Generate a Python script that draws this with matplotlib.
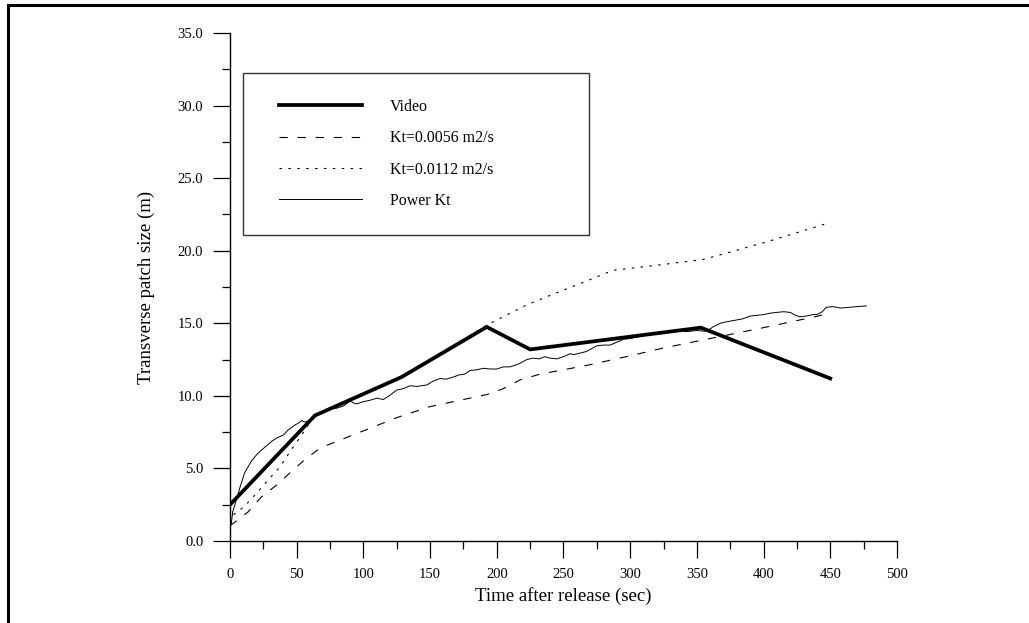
import matplotlib
matplotlib.use("Agg")
import matplotlib.pyplot as plt
from matplotlib.lines import Line2D
from matplotlib.legend_handler import HandlerLine2D
from matplotlib.patches import Rectangle
from matplotlib.ticker import MultipleLocator, FormatStrFormatter

# valeurs
video_t = [0, 63.7, 128.7, 192.5, 225, 353, 450]
video_w = [2.5, 8.65, 11.3, 14.75, 13.2, 14.7, 11.2]

kt1_t = [0, 13.5, 23.7, 35, 45, 56, 67.5, 81, 105, 125, 150, 175, 193, 205, 217.5,
         232.5, 267.5, 300, 325, 355, 400, 441, 447]
kt1_w = [1.05, 2.0, 3.05, 3.86, 4.7, 5.6, 6.4, 6.9, 7.77, 8.5, 9.26, 9.75, 10.1, 10.5, 11.1,
         11.5, 12.1, 12.76, 13.3, 13.86, 14.7, 15.5, 15.65]

kt2_t = [0, 2.5, 11, 20, 28.5, 37.5, 46, 53.7, 60, 63, 75, 100, 125, 150, 175, 193,
         222, 242, 267, 287, 320, 355, 402, 450]
kt2_w = [1.25, 1.8, 2.4, 3.3, 4.2, 5.1, 6.3, 7.3, 8.2, 8.55, 9.2, 10.1, 11.2, 12.5, 13.9, 14.9,
         16.25, 17.0, 17.9, 18.65, 19.0, 19.4, 20.6, 21.95]

power_t = [1, 2, 5, 7.5, 11, 16, 20, 24, 28, 31, 35, 37.5, 40, 43.5, 46, 48.7, 51, 53.7,
           56, 57.5, 60, 62.5, 66, 70, 75, 80, 85, 90, 93, 95, 100, 105, 110, 115, 120,
           125, 130, 135, 140, 147.5, 152, 157.5, 162, 167.5, 172, 176, 180, 185, 190,
           195, 200, 205, 210, 215, 217.5, 222.5, 227, 232, 236, 240, 245, 250, 255, 258,
           262.5, 267, 270, 275, 280, 285, 290, 295, 300, 305, 310, 315, 320, 325, 330,
           335, 342.5, 350, 357.5, 362, 367.5, 372, 378, 384, 390, 395, 400, 405, 410,
           415, 420, 424, 427, 432, 437, 440, 444, 447, 452, 458, 464, 470, 477]
power_w = [1.2, 2.0, 2.9, 3.7, 4.7, 5.5, 5.95, 6.3, 6.6, 6.85, 7.1, 7.2, 7.3, 7.65, 7.8, 8.0,
           8.1, 8.3, 8.2, 8.23, 8.35, 8.57, 8.7, 8.9, 9.1, 9.15, 9.3, 9.65, 9.5, 9.45, 9.6,
           9.7, 9.84, 9.75, 10.05, 10.4, 10.5, 10.7, 10.65, 10.75, 11.0, 11.2, 11.15, 11.3,
           11.45, 11.5, 11.75, 11.8, 11.9, 11.85, 11.85, 12.0, 12.0, 12.15, 12.25, 12.5,
           12.6, 12.55, 12.7, 12.6, 12.55, 12.7, 12.9, 12.85, 12.95, 13.05, 13.2, 13.45,
           13.5, 13.5, 13.7, 13.9, 13.95, 14.05, 14.14, 14.3, 14.3, 14.35, 14.4, 14.5,
           14.43, 14.5, 14.45, 14.75, 15.0, 15.1, 15.2, 15.3, 15.5, 15.55, 15.6, 15.7,
           15.75, 15.8, 15.75, 15.55, 15.45, 15.5, 15.6, 15.6, 15.8, 16.1, 16.15, 16.05,
           16.1, 16.15, 16.2]

labels = ["Video", "Kt=0.0056 m2/s", "Kt=0.0112 m2/s", "Power Kt"]


def main():
    plt.rcParams['font.family'] = ['Liberation Serif', 'DejaVu Serif']
    plt.rcParams['lines.scale_dashes'] = False

    fig = plt.figure(figsize=(10.29, 6.23), dpi=100)
    ax = fig.add_axes([0.2235, 0.1316, 0.6482, 0.8154])

    ax.plot(video_t, video_w, color='black', lw=2.7, solid_joinstyle='miter', label=labels[0])
    ax.plot(kt1_t, kt1_w, color='black', lw=0.8, dashes=(6, 7), label=labels[1])
    ax.plot(kt2_t, kt2_w, color='black', lw=0.8, dashes=(1.8, 4.6), label=labels[2])
    ax.plot(power_t, power_w, color='black', lw=0.7, label=labels[3])

    ax.set_xlim(0, 500)
    ax.set_ylim(0, 35)
    ax.spines['top'].set_visible(False)
    ax.spines['right'].set_visible(False)
    for s in ('left', 'bottom'):
        ax.spines[s].set_linewidth(1.0)

    ax.xaxis.set_major_locator(MultipleLocator(50))
    ax.xaxis.set_minor_locator(MultipleLocator(25))
    ax.yaxis.set_major_locator(MultipleLocator(5))
    ax.yaxis.set_minor_locator(MultipleLocator(2.5))
    ax.yaxis.set_major_formatter(FormatStrFormatter('%.1f'))
    ax.tick_params(which='major', direction='out', length=12.2, width=0.9, labelsize=10.5, pad=7)
    ax.tick_params(which='minor', direction='out', length=6, width=0.9)

    ax.set_xlabel('Time after release (sec)', fontsize=13.5)
    ax.set_ylabel('Transverse patch size (m)', fontsize=13.5)
    ax.xaxis.set_label_coords(0.5, -0.09)
    ax.yaxis.set_label_coords(-0.112, 0.5)

    leg = ax.legend(loc='upper left', bbox_to_anchor=(0.2362, 0.8828, 0.3362, 0),
                    bbox_transform=fig.transFigure, mode='expand', borderaxespad=0,
                    fontsize=11.5, borderpad=1.62, labelspacing=0.96,
                    handlelength=5.82, handletextpad=1.75, fancybox=False,
                    handler_map={Line2D: HandlerLine2D(xpad=0.63)})
    leg.get_frame().set_edgecolor('black')
    leg.get_frame().set_linewidth(1.0)

    # cadre autour de la figure
    fig.add_artist(Rectangle((0.0073, -0.05), 1.1, 1.042, transform=fig.transFigure,
                             fill=False, edgecolor='black', lw=2.2))

    fig.savefig('out.png', dpi=100)


if __name__ == "__main__":
    main()
